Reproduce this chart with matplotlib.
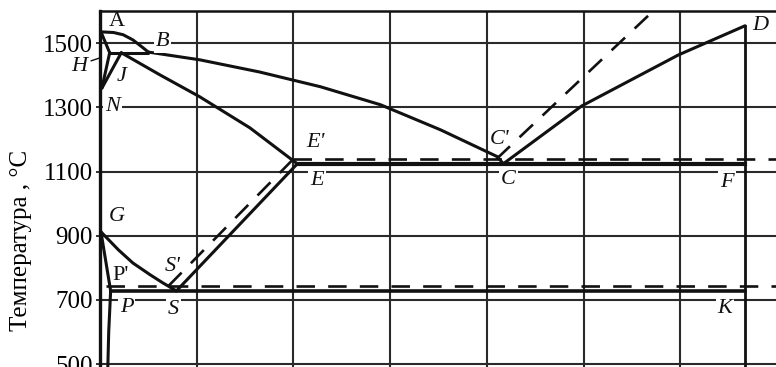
import matplotlib
matplotlib.use('Agg')
import matplotlib.pyplot as plt

# Fe-C diagram, values (%C, degC)
liq_AB_c = [0.01, 0.14, 0.24, 0.34, 0.43, 0.50]
liq_AB_t = [1535, 1533, 1526, 1510, 1489, 1472]
liq_BC_c = [0.50, 1.03, 1.65, 2.28, 2.90, 3.52, 4.11, 4.17]
liq_BC_t = [1472, 1448, 1410, 1364, 1308, 1230, 1146, 1124]
liq_CD_c = [4.17, 4.98, 5.98, 6.67]
liq_CD_t = [1124, 1304, 1463, 1554]
liq_CD2_c = [4.10, 5.72]          # stable (graphite) liquidus
liq_CD2_t = [1139, 1600]
sol_JE_c = [0.22, 0.62, 1.03, 1.55, 2.04]
sol_JE_t = [1470, 1401, 1333, 1236, 1124]
delta_AH_c = [0.01, 0.10]
delta_AH_t = [1535, 1470]
delta_HN_c = [0.10, 0.02]
delta_HN_t = [1470, 1360]
delta_JN_c = [0.22, 0.02]
delta_JN_t = [1470, 1360]
peri_c = [0.10, 0.50]
peri_t = [1470, 1470]
eut_c = [2.04, 6.67]
eut_t = [1124, 1124]
eut2_c = [2.00, 7.0]
eut2_t = [1139, 1139]
acm_c = [0.79, 2.04]
acm_t = [728, 1124]
acm2_c = [0.71, 2.00]
acm2_t = [744, 1139]
a3_c = [0.01, 0.19, 0.34, 0.52, 0.65, 0.79]
a3_t = [912, 856, 815, 778, 753, 728]
gp_c = [0.01, 0.06, 0.11]
gp_t = [912, 820, 728]
pq_c = [0.11, 0.09, 0.08]
pq_t = [728, 600, 480]
eutd_c = [0.11, 6.67]
eutd_t = [728, 728]
eutd2_c = [0.06, 7.0]
eutd2_t = [744, 744]
fe3c_c = [6.67, 6.67]
fe3c_t = [1554, 480]

# key points for the letters
points = {
    'A': (0.01, 1535), 'B': (0.50, 1470), 'H': (0.10, 1470), 'J': (0.22, 1470),
    'N': (0.02, 1360), 'G': (0.01, 912), "P'": (0.06, 744), "S'": (0.71, 744),
    'P': (0.11, 728), 'S': (0.79, 728), "E'": (2.00, 1139), 'E': (2.04, 1124),
    "C'": (4.10, 1139), 'C': (4.17, 1124), 'D': (6.67, 1554), 'F': (6.67, 1124),
    'K': (6.67, 728),
}
yticks = [500, 700, 900, 1100, 1300, 1500]
xgrid = [1, 2, 3, 4, 5, 6]

fig = plt.figure(figsize=(7.76, 3.67), dpi=100)
ax = fig.add_axes([100/776, 0, 676/776, 356/367])
ax.set_xlim(0, 6.99)
ax.set_ylim(491, 1600)

ink = '#111111'
for x in xgrid:
    ax.axvline(x, color='#2a2a2a', lw=1.5, zorder=1)
for y in yticks:
    ax.axhline(y, color='#2a2a2a', lw=1.5, zorder=1)

solid = dict(color=ink, lw=2.2, zorder=3, solid_capstyle='round')
dashed = dict(color=ink, lw=1.9, zorder=3, dashes=(7, 5))

ax.plot(liq_AB_c, liq_AB_t, **solid)
ax.plot(liq_BC_c, liq_BC_t, **solid)
ax.plot(liq_CD_c, liq_CD_t, **solid)
ax.plot(sol_JE_c, sol_JE_t, **solid)
ax.plot(delta_AH_c, delta_AH_t, **solid)
ax.plot(delta_HN_c, delta_HN_t, **solid)
ax.plot(delta_JN_c, delta_JN_t, **solid)
ax.plot(peri_c, peri_t, **solid)
ax.plot(eut_c, eut_t, color=ink, lw=3.0, zorder=3)
ax.plot(acm_c, acm_t, **solid)
ax.plot(a3_c, a3_t, **solid)
ax.plot(gp_c, gp_t, **solid)
ax.plot(pq_c, pq_t, **solid)
ax.plot(eutd_c, eutd_t, color=ink, lw=2.6, zorder=3)
ax.plot(fe3c_c, fe3c_t, color=ink, lw=2.0, zorder=3)

ax.plot(liq_CD2_c, liq_CD2_t, **dashed)
ax.plot(eut2_c, eut2_t, **dashed)
ax.plot(acm2_c, acm2_t, **dashed)
ax.plot(eutd2_c, eutd2_t, **dashed)

# letter offsets in pixels from their points
offsets = {
    'A': (16, 10), 'B': (14, 11), 'H': (-30, -14), 'J': (0, -24), 'N': (11, -18),
    'G': (16, 15), "P'": (15, 10), "S'": (4, 19), 'P': (16, -17), 'S': (-3, -19),
    "E'": (22, 16), 'E': (20, -17), "C'": (3, 19), 'C': (5, -16), 'D': (15, 0),
    'F': (-18, -19), 'K': (-20, -18),
}
boxed = {'B', 'N', 'E', 'C', 'F', 'P', 'S', 'K'}
upright = {'A', "P'"}
for name, (px, py) in points.items():
    dx, dy = offsets[name]
    kw = {}
    if name in boxed:
        kw['bbox'] = dict(facecolor='white', edgecolor='none', pad=1.5)
    ax.annotate(name, (px, py), xytext=(dx, dy), textcoords='offset pixels',
                ha='center', va='center', fontsize=16, family='Liberation Serif',
                style='normal' if name in upright else 'italic',
                color=ink, zorder=5, annotation_clip=False, **kw)

# small leader from H to the delta loop
ax.annotate('', (0.03, 1457), xytext=(-0.12, 1442),
            arrowprops=dict(arrowstyle='-', color=ink, lw=1.0),
            annotation_clip=False)

ax.set_yticks(yticks)
ax.set_yticklabels([str(t) for t in yticks], family='Liberation Serif', fontsize=18)
ax.set_xticks([])
ax.tick_params(axis='y', length=3, width=1.2, pad=2, color=ink)
ax.set_ylabel('Температура , °C', family='Liberation Serif', fontsize=18)
ax.yaxis.set_label_coords(-68/676, 127/356)

for s in ('right', 'bottom'):
    ax.spines[s].set_visible(False)
ax.spines['left'].set_linewidth(2.4)
ax.spines['top'].set_linewidth(1.8)
ax.spines['left'].set_color(ink)
ax.spines['top'].set_color(ink)

fig.savefig('out.png', dpi=100)
